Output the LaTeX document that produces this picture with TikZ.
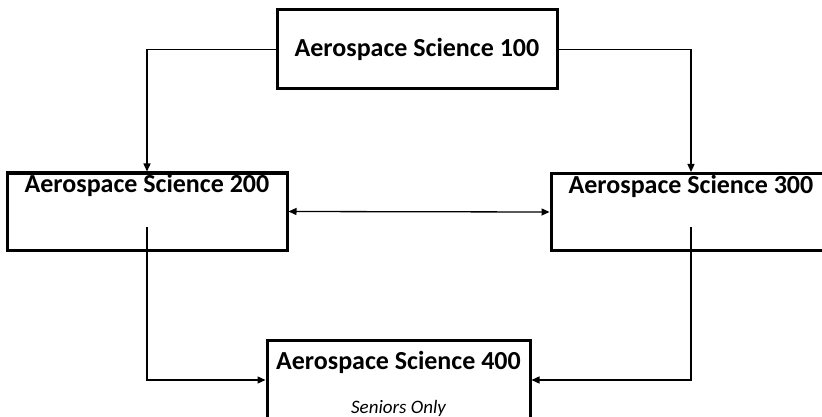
\documentclass[tikz,border=0pt]{standalone}
\usepackage{fontspec}
\setmainfont{Carlito}
\usetikzlibrary{arrows.meta,positioning}

\begin{document}
\begin{tikzpicture}[x=1pt,y=-1pt,
  course/.style={draw, line width=3pt, minimum width=280pt, minimum height=77pt, inner sep=0pt},
  heading/.style={font=\bfseries\fontsize{26}{30}\selectfont},
  link/.style={line width=1.3pt, -{Triangle[length=8pt,width=7pt]}}]
            % page and cut-off edges
            \useasboundingbox (0,0) rectangle (822,417);
            \clip (0,0) rectangle (822,417);

            % the four courses
            \node[course, minimum height=79pt, heading] (as100) at (417,49.5) {Aerospace Science 100};
            \node[course, label={[heading, anchor=north, inner sep=3pt]north:Aerospace Science 200}] (as200) at (147,211.5) {};
            \node[course, label={[heading, anchor=north, inner sep=3pt]north:Aerospace Science 300}] (as300) at (691,212) {};
            \node[course, minimum width=263pt, minimum height=80pt,
                  label={[heading, anchor=north, inner sep=13pt]north:Aerospace Science 400},
                  label={[font=\itshape\fontsize{19}{22}\selectfont, anchor=south, inner sep=5pt]south:Seniors Only}] (as400) at (398.5,380) {};

            % starts of the lower links
            \coordinate (out200) at (147,227);
            \coordinate (out300) at (691,227);

            \draw[link] (as100.west) -| (as200.north);
            \draw[link] (as100.east) -| (as300.north);
            \draw[link, {Triangle[length=8pt,width=7pt]}-{Triangle[length=8pt,width=7pt]}] (as200.east) -- (as300.west);
            \draw[link] (out200) |- (as400.west);
            \draw[link] (out300) |- (as400.east);
\end{tikzpicture}
\end{document}
